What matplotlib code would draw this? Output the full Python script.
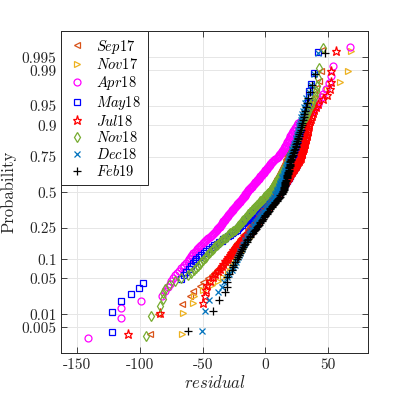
from statistics import NormalDist
import numpy as np
import matplotlib
matplotlib.use("Agg")
import matplotlib.pyplot as plt

plt.rcParams['font.family'] = 'serif'
plt.rcParams['font.serif'] = ['cmr10']
plt.rcParams['mathtext.fontset'] = 'cm'
plt.rcParams['axes.unicode_minus'] = False

# sorted residuals of each campaign
sep17 = [-92, -86, -66.7, -60, -57.4, -52, -49.4, -46, -43, -40.5, -38, -36, -34, -32.5, -30.8,
         -30, -29, -28, -27.5, -26.5, -25.5, -25, -24, -23, -22.5, -21.5, -20.5, -20, -19, -18, -17.5,
         -16.5, -15.5, -15, -14, -13.5, -13,
         -12.5, -12, -11.5, -11, -10.5, -10, -9.7, -9.3, -9, -8.5, -8, -7.6, -7.2, -6.8, -6.4, -6, -5.5,
         -5, -4.6, -4.2, -3.8, -3.4, -3, -2.6, -2.2, -1.8, -1.4, -1, -0.6, -0.2, 0.2, 0.6, 1, 1.5, 2, 2.5, 3,
         3.4, 3.8, 4.2, 4.6, 5, 5.4, 5.8, 6.2, 6.6, 7, 7.4, 7.8, 8.2, 8.6, 9, 9.4, 9.8, 10.2, 10.6, 11,
         11.4, 11.8, 12.2, 12.6, 13, 13.4, 13.8, 14.2, 14.6, 15, 15.4, 15.8, 16.1, 16.4, 16.6, 16.8, 17,
         17.5, 18, 18.5, 19, 19.5, 20, 20.5, 21, 21.5, 22, 22.5, 23, 23.4, 23.8, 24.2, 24.6, 25, 25.4,
         25.8, 26.2, 26.5, 26.8, 27,
         28, 29, 30, 31, 32, 33, 34, 35.5, 37, 38.5, 40, 42.5, 44.5, 45.5]
nov17 = [-66.7, -65.4, -57.4, -57, -50, -42.7, -38, -34, -30, -28, -26.5, -25.5, -24.5, -23.5, -22.5,
         -21.8, -21, -20.3, -19.6, -18.9, -18.2, -17.5, -16.8, -16.1, -15.4, -14.7, -14, -13.3, -12.6,
         -11.9, -11.2, -10.5, -9.8, -9.1, -8.5, -8,
         -7.5, -7, -6.5, -6, -5.5, -5, -4.6, -4.2, -3.8, -3.4, -3, -2.6, -2.2, -1.8, -1.4, -1, -0.6, -0.2,
         0.2, 0.6, 1, 1.5, 2, 2.5, 3, 3.5, 4, 4.5, 5, 5.5, 6, 6.5, 7, 7.3, 7.6, 8,
         8.4, 8.8, 9.2, 9.6, 10, 10.4, 10.8, 11.2, 11.6, 12, 12.4, 12.8, 13.2, 13.6, 14, 14.4, 14.8, 15.2,
         15.6, 16, 16.4, 16.8, 17.2, 17.6, 18, 18.4, 18.8, 19.2, 19.6, 20, 20.4, 20.8, 21.2, 21.5, 21.8, 22,
         22.4, 22.8, 23.2, 23.6, 24, 24.4, 24.8, 25.2, 25.6, 26, 26.4, 26.8, 27.2, 27.6, 28, 28.4, 28.8,
         29, 29.2, 29.5, 29.8, 30,
         31, 32, 33, 34, 35, 36.5, 38, 40, 42, 45, 49, 59.6, 65.7, 68]
apr18 = [-141.6, -115, -115, -99, -82.6, -80, -78, -76.5, -75, -73.5, -72, -70.5, -69, -67.5, -66,
         -65, -63.5, -62, -61,
         -60, -59, -58.5, -57.5, -56.5, -55.5, -54.5, -53.5, -53, -52, -51, -50, -49, -48, -47.5, -46.5,
         -45.5, -44.5, -43.5, -42.5, -42, -41, -40, -39.5, -39, -38.5, -38, -37,
         -36.5, -36, -35.5, -35, -34.5, -34, -33.5, -33, -32.5, -32, -31.5, -31, -30.5, -30, -29.5, -29,
         -28.5, -28, -27.5, -27, -26.5, -26, -25.5, -25, -24.5, -24, -23.5, -23, -22.5, -22, -21.5, -21,
         -20.5, -20, -19.5, -19, -18.5, -18, -17.5, -17, -16.6, -16.3, -16, -15.6, -15.3, -15,
         -14.5, -14, -13.5, -13, -12.5, -12, -11.5, -11, -10.5, -10, -9.5, -9, -8.5, -8, -7.5, -7, -6.5,
         -6, -5.5, -5, -4.5, -4, -3.5, -3, -2.5, -2, -1.5, -1, -0.5, 0, 0.5, 1, 1.5, 2, 2.5, 3, 3.5, 4,
         4.5, 5, 5.5, 6, 7, 8, 9, 10,
         10.5, 11, 11.5, 12, 12.5, 13, 13.5, 14, 14.5, 15, 15.5, 16, 16.5, 17, 17.5, 18, 18.5, 19, 19.5,
         20, 20.5, 21, 21.5, 22, 22.5, 23.5, 24, 25,
         26, 27.5, 29, 30.5, 32, 34, 36, 38, 40, 42, 43, 45, 46, 48.4, 50.5, 52.6, 54, 67.3]
may18 = [-122, -122, -115, -107, -101, -97.5, -67, -65, -63, -61, -59.5, -58, -56.5, -55,
         -53, -51, -49, -47, -45, -43, -41, -39, -37, -35, -33.5, -32, -30, -28.5, -27, -25.5, -24.5,
         -23, -22,
         -21, -20, -19, -18, -17, -16, -15, -14, -13, -12, -11, -10, -9, -8, -7, -6, -5.5,
         -4.5, -3.5, -2.5, -1.5, -0.5, 0.5, 1.5, 2.5, 3.5, 4.5, 5.5, 6.5, 7.5, 8.5, 9.5, 10.5,
         11.5, 12, 12.5, 13, 13.5, 14, 14.5, 15, 15.5, 16, 16.5, 17, 17.5, 18, 18.5, 19, 19.5, 20, 20.5,
         21, 21.5, 22, 22.5, 23, 23.5, 24, 24.5, 25, 25.5, 26, 26, 26.5, 27,
         27.2, 27.4, 27.6, 27.8, 28, 28.2, 28.4, 28.6, 28.8, 29, 29.2, 29.4, 29.6, 29.8, 30, 30.2, 30.4,
         30.6, 30.8, 31,
         31.4, 31.8, 32.2, 32.6, 33, 33.4, 33.8, 34.2, 34.6, 35, 36.7, 39, 42.3]
jul18 = [-110, -84, -49.5, -48, -47, -46.5, -44, -42, -40, -38, -36.5, -35, -33.5, -32, -30.5,
         -29.5, -28.5, -27.5, -26.5, -25.5, -24.5, -23.5, -22.5, -21.5, -20.5, -19.5, -18.5, -17.5,
         -16.5, -15.5, -14.5, -13.5, -12.5, -11.5, -11, -10,
         -9.5, -9, -8.5, -8, -7, -6.5, -6, -5.5, -5, -4.5, -4, -3, -2.5, -2, -1.5, -1, -0.5, 0, 1, 1.5,
         2, 2.5, 3, 3.5, 4, 5, 5.5, 6, 6.5, 7, 7.5, 8, 8.5, 9, 9.5, 10,
         10.5, 11, 11.5, 12, 12.5, 13, 13.5, 14, 14.5, 15, 15.5, 16, 16.5, 17, 17.5, 18, 18.5, 19, 19.5,
         20, 20.5, 21, 21.5, 22, 22.5, 23, 23.5, 24, 24.5, 25, 25.5, 26, 26.5, 27, 27.5, 28,
         28.3, 28.6, 28.9, 29.2, 29.5, 29.8, 30.1, 30.4, 30.7, 31, 31.3, 31.6, 31.9, 32.2, 32.5, 32.8,
         33.1, 33.4, 33.7, 34, 34.3, 34.6,
         35, 35.5, 36, 37, 38, 39, 40, 42, 46, 49, 51.3, 52.1, 52.4, 56.6]
nov18 = [-95.4, -91, -84, -82, -81.3, -80, -77, -72, -67, -62, -59, -57, -55.5, -54, -52.5, -51, -49.5,
         -48.5, -47.5, -46.5, -45, -44, -43, -42, -41, -40, -38.5, -37.5, -36.5, -35.5, -34.5, -33.5,
         -32, -31, -30, -29, -28, -27, -25.5, -24.5, -23.5, -22.5,
         -22, -21.5, -21, -20.5, -19.5, -19, -18.5, -18, -17.5, -16.5, -16, -15.5, -15, -14, -13.5, -13,
         -12.5, -12, -11, -10.5, -10, -9.5, -9, -8, -7.5, -7, -6.5, -6, -5, -4.5, -4, -3.5, -3, -2, -1.5,
         -1, -0.5, 0, 1, 1.5, 2, 3,
         3.4, 3.8, 4.2, 4.6, 5, 5.4, 5.8, 6.2, 6.6, 7, 7.4, 7.8, 8.2, 8.6, 9, 9.4, 9.8, 10.2, 10.6, 11,
         11.4, 11.8, 12.2, 12.6, 13, 13.4, 13.8, 14.2, 14.6, 15, 15.4, 15.8, 16.2, 16.6, 17, 17.4, 17.8,
         18.2, 18.6, 19, 19.5, 20,
         20.3, 20.6, 20.9, 21.2, 21.5, 21.8, 22.1, 22.4, 22.7, 23, 23.3, 23.6, 23.9, 24.2, 24.5, 24.8,
         25.1, 25.4, 25.7, 26, 26.3, 26.6, 26.9, 27.2, 27.6, 28,
         29, 30, 31, 32, 33, 34, 35, 36, 37, 38, 39.5, 40.5, 41.5, 42.3, 43, 46.3]
dec18 = [-50.7, -48, -44.7, -37.5, -34.8, -33, -30.8, -29, -26.8, -25.5, -24.2, -23.5, -22.5,
         -22, -21, -20.5, -20, -19, -18.5, -18, -17, -16.5, -16, -15, -14.5, -14, -13, -12.5, -12, -11,
         -10.5, -10,
         -9.5, -9, -8, -7.5, -7, -6, -5.5, -5, -4, -3.5, -3, -2, -1.5, -1, 0, 0.5, 1, 2, 2.5, 3, 4, 4.5,
         5, 5.5, 6, 6.5, 7, 7.5, 8, 8.5, 9,
         9.5, 9.5, 10, 10.5, 10.5, 11, 11.5, 11.5, 12, 12.5, 12.5, 13, 13.5, 13.5, 14, 14.5, 14.5, 15,
         15.5, 15.5, 16, 16.5, 16.5, 17, 17.5, 17.5, 18, 18, 18.5, 18.5, 19,
         19.5, 20, 20.5, 21, 21.5, 21.5, 22, 22.5, 23, 23.5, 24, 24, 24.5, 25, 25.5, 26, 26, 26.5, 27,
         27.5, 28, 28.5, 29, 30, 30.5, 31.5, 32.5, 34.5, 36.5, 39, 42]
feb19 = [-62, -41.5, -36.7, -32, -31, -31, -30.8, -29, -26.8, -25.5, -25.5, -24, -23,
         -22, -21, -20.5, -19.5, -18.5, -18, -17, -16, -15, -14.5, -13.5, -12.5, -12, -11, -10, -9,
         -8.5, -7.5, -6.5,
         -6, -5, -4.5, -4, -3, -2.5, -2, -1, -0.5, 0, 1, 1.5, 2, 3, 3.5, 4, 5, 5.5, 6, 7, 7.5, 8, 9, 9.5,
         10, 11, 11.5, 12, 13, 13.5, 14,
         14, 14.5, 14.5, 15, 15, 15.5, 15.5, 16, 16, 16, 16.5, 16.5, 17, 17, 17.5, 17.5, 18, 18, 18,
         18.5, 18.5, 19, 19, 19.5, 19.5, 20, 20, 20, 20.5, 20.5, 21,
         21.5, 22, 22, 22.5, 23, 23.5, 24, 24, 24.5, 25, 25.5, 26, 26, 26.5, 27, 27.5, 28, 28.5, 29,
         29.5, 30, 30.5, 31, 31.5, 32, 33, 34, 35.6, 37.5, 39.4, 47.8]

labels = ['$Sep17$', '$Nov17$', '$Apr18$', '$May18$', '$Jul18$', '$Nov18$', '$Dec18$', '$Feb19$']
series = [sep17, nov17, apr18, may18, jul18, nov18, dec18, feb19]
markers = ['<', '>', 'o', 's', '*', 'd', 'x', '+']
colors = [(0.85, 0.325, 0.098), (0.929, 0.694, 0.125), (1, 0, 1), (0, 0, 1),
          (1, 0, 0), (0.466, 0.674, 0.188), (0, 0.447, 0.741), (0, 0, 0)]
sizes = [5, 5, 5, 4.5, 6.5, 5.5, 4, 5.5]

prob_ticks = [0.005, 0.01, 0.05, 0.1, 0.25, 0.5, 0.75, 0.9, 0.95, 0.99, 0.995]
prob_labels = ['0.005', '0.01', '0.05', '0.1', '0.25', '0.5', '0.75', '0.9', '0.95', '0.99', '0.995']
res_ticks = [-150, -100, -50, 0, 50]

nd = NormalDist()
_ppf = np.vectorize(nd.inv_cdf, otypes=[float])
_cdf = np.vectorize(nd.cdf, otypes=[float])


def forward(p):
    p = np.clip(np.asarray(p, dtype=float), 1e-9, 1 - 1e-9)
    return _ppf(p)


def inverse(z):
    return _cdf(np.asarray(z, dtype=float))


fig = plt.figure(figsize=(4.07, 3.95), dpi=100)
ax = fig.add_axes([0.151, 0.1063, 0.754, 0.8152])
ax.set_yscale('function', functions=(forward, inverse))

for vals, lab, mk, col, ms in zip(series, labels, markers, colors, sizes):
    r = np.sort(np.array(vals, dtype=float))
    n = len(r)
    p = (np.arange(1, n + 1) - 0.5) / n  # normplot plotting positions
    ax.plot(r, p, linestyle='none', marker=mk, markersize=ms, markerfacecolor='none',
            markeredgecolor=col, markeredgewidth=0.9, label=lab)

ax.set_xlim(-162.7, 82.1)
ax.set_ylim(nd.cdf(-3.067), nd.cdf(3.078))
ax.set_xticks(res_ticks)
ax.set_xticklabels([str(t) for t in res_ticks])
ax.set_yticks(prob_ticks)
ax.set_yticklabels(prob_labels)
ax.minorticks_off()
ax.grid(True, color='#e6e6e6', linewidth=0.7)
ax.set_axisbelow(True)
ax.tick_params(direction='in', top=True, right=True, length=4, width=0.6,
               colors='#262626', labelsize=11)
for s in ax.spines.values():
    s.set_color('#262626')
    s.set_linewidth(0.7)

ax.set_xlabel('$residual$', fontsize=12, color='#262626', labelpad=2)
ax.set_ylabel('Probability', fontsize=12, color='#262626')
ax.yaxis.set_label_coords(-0.148, 0.5)

leg = ax.legend(loc='upper left', borderaxespad=0, fancybox=False, framealpha=1,
                edgecolor='#262626', fontsize=10.5, handlelength=1.3, handletextpad=0.65,
                labelspacing=0.12, borderpad=0.45)
leg.get_frame().set_linewidth(0.7)

fig.savefig('out.png', dpi=100)
